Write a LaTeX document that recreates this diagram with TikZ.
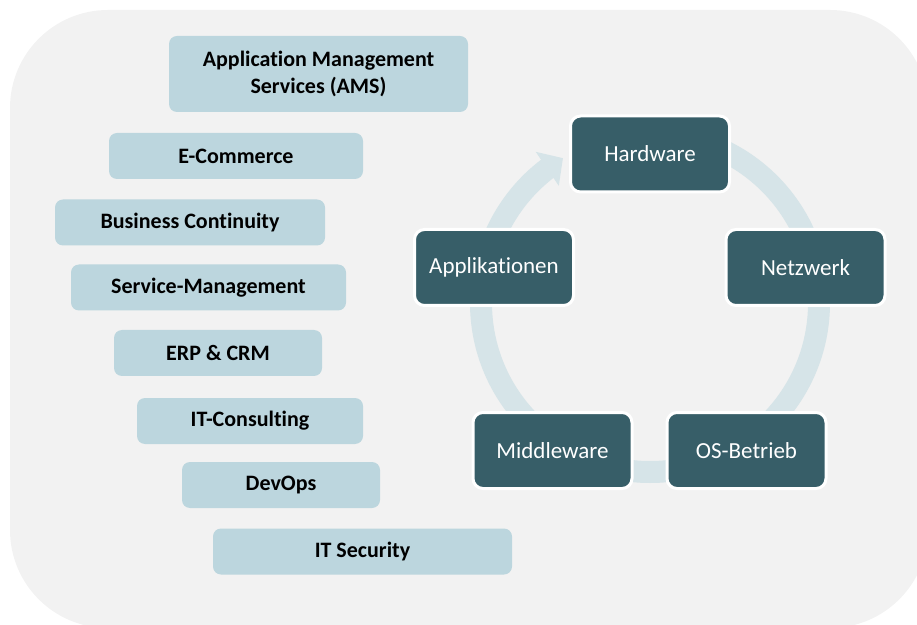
\documentclass[tikz,border=0pt]{standalone}
\usepackage{fontspec}
\setmainfont{Carlito}[Ligatures=NoCommon]
\usepackage{xcolor}
\usepackage{tikz}
\usetikzlibrary{arrows.meta, bending, positioning}
\definecolor{panelgray}{HTML}{F2F2F2}
\definecolor{servicebox}{HTML}{BCD6DE}
\definecolor{stackbox}{HTML}{375E68}
\definecolor{cyclering}{HTML}{D6E4E8}

\begin{document}
\begin{tikzpicture}[
    x=1pt, y=1pt,
    service/.style={fill=servicebox, rounded corners=8pt, minimum height=46pt, align=center,
        font=\fontsize{22}{27}\selectfont\bfseries, text=black},
    stack/.style={fill=stackbox, draw=white, line width=3pt, rounded corners=10pt,
        minimum width=159pt, minimum height=76pt, font=\fontsize{23}{27}\selectfont, text=white},
    cycle arrow/.style={draw=cyclering, line width=22pt, -{Triangle[length=19pt, width=40pt, flex]}}
]

\useasboundingbox (0,0) rectangle (917,624);
\clip (0,0) rectangle (917,624);

% Panel
\fill[panelgray, rounded corners=98pt] (10,-4) rectangle (928,614);

% Services
\node (ams) [service, minimum width=299pt, minimum height=76pt] at (318.5,550) {Application Management\\Services (AMS)};
\node (ecom) [service, minimum width=254pt] at (236,468) {E-Commerce};
\node (bcm) [service, minimum width=270pt] at (190,401.5) {Business Continuity};
\node (itsm) [service, minimum width=275pt] at (208.5,336.5) {Service-Management};
\node (erp) [service, minimum width=208pt] at (218,271) {ERP \& CRM};
\node (consult) [service, minimum width=226pt] at (250,203) {IT-Consulting};
\node (devops) [service, minimum width=198pt] at (281,139) {DevOps};
\node (sec) [service, minimum width=299pt] at (362.5,72.5) {IT Security};

% Operations cycle
\coordinate (ringc) at (650,321);
\draw [cycle arrow] ([shift={(90:169)}]ringc) arc[start angle=90, end angle=-239, radius=169];

\node (hw) [stack] at (650,470) {Hardware};
\node (net) [stack] at (805.5,356.5) {Netzwerk};
\node (os) [stack] at (746.5,173.5) {OS-Betrieb};
\node (mw) [stack] at (552.5,173.5) {Middleware};
\node (apps) [stack] at (494,356.5) {Applikationen};

\end{tikzpicture}
\end{document}
